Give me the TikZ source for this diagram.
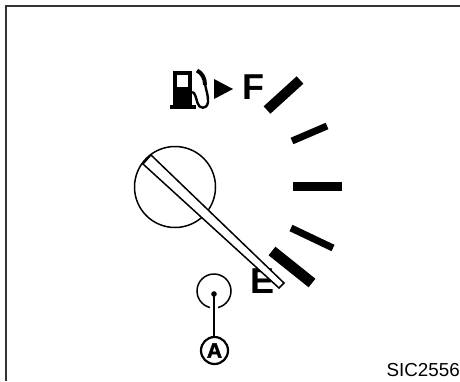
\documentclass[tikz,border=0pt]{standalone}
\usepackage{fontspec}
\setmainfont{Liberation Sans}
\newfontfamily\heavylabel[BoldFeatures={FakeBold=2.5}]{Liberation Sans}
\begin{document}
\begin{tikzpicture}[x=1pt,y=-1pt,
  tick/.style={line width=#1,line cap=butt,black},
  thin outline/.style={draw=black,line width=1.5pt},
  scale label/.style={font=\fontsize{36}{36}\selectfont\bfseries,inner sep=0pt,anchor=base west},
]
\useasboundingbox (0,0) rectangle (460,381);
\fill[white] (0,0) rectangle (460,381);
\draw[line width=2pt,black!80] (5.5,381) -- (5.5,5.5) -- (460,5.5);
% ticks
\draw[tick=10pt] (267,110) -- (300,80);
\draw[tick=7pt] (292,141) -- (327,126);
\draw[tick=9pt] (293,186) -- (342,186);
\draw[tick=7pt] (291,228) -- (333,248);
\draw[tick=11pt] (272,251) -- (312,283);
% letters
\node[scale label] (F) at (242.5,99) {F};
\node[scale label] (E) at (250.4,293) {E};
% dial
\node[circle,thin outline,minimum size=81pt,inner sep=0pt] (hub) at (175,187) {};
\draw[thin outline,fill=white] (151,155) -- (284,283) -- (279,288) -- (143,164) -- cycle;
% small circle and label
\node[circle,thin outline,minimum size=34pt,inner sep=0pt] (lamp) at (214,291) {};
\node[circle,draw=black,line width=2.2pt,minimum size=27pt,inner sep=0pt,font=\fontsize{21}{21}\selectfont\heavylabel\bfseries] (A) at (214.5,350.5) {A};
\coordinate (dot) at (214,294);
\draw[white,line width=8pt] (214,303) -- (214,312);
\fill (dot) circle (2.8pt);
\draw[line width=1.6pt] (dot) -- (214,337);
% pump
\fill (173,71) rectangle (192,106);
\fill (170,105) rectangle (195.5,109);
\fill[white] (177,75) rectangle (187.5,87);
\draw[line width=2.4pt] (192,92) .. controls (195,92) and (196,98) .. (197.5,103) .. controls (199,109) and (207,110) .. (208,102) .. controls (208.5,96) and (206,90) .. (205,84);
\draw[line width=4pt] (205,85) .. controls (205,78) and (202,73) .. (197,70.5);
\fill (214,79) -- (233,89) -- (214,99) -- cycle;
\node[font=\fontsize{18.8}{18.8}\selectfont,inner sep=0pt,anchor=base east] (code) at (460,376) {SIC2556};
\end{tikzpicture}
\end{document}
